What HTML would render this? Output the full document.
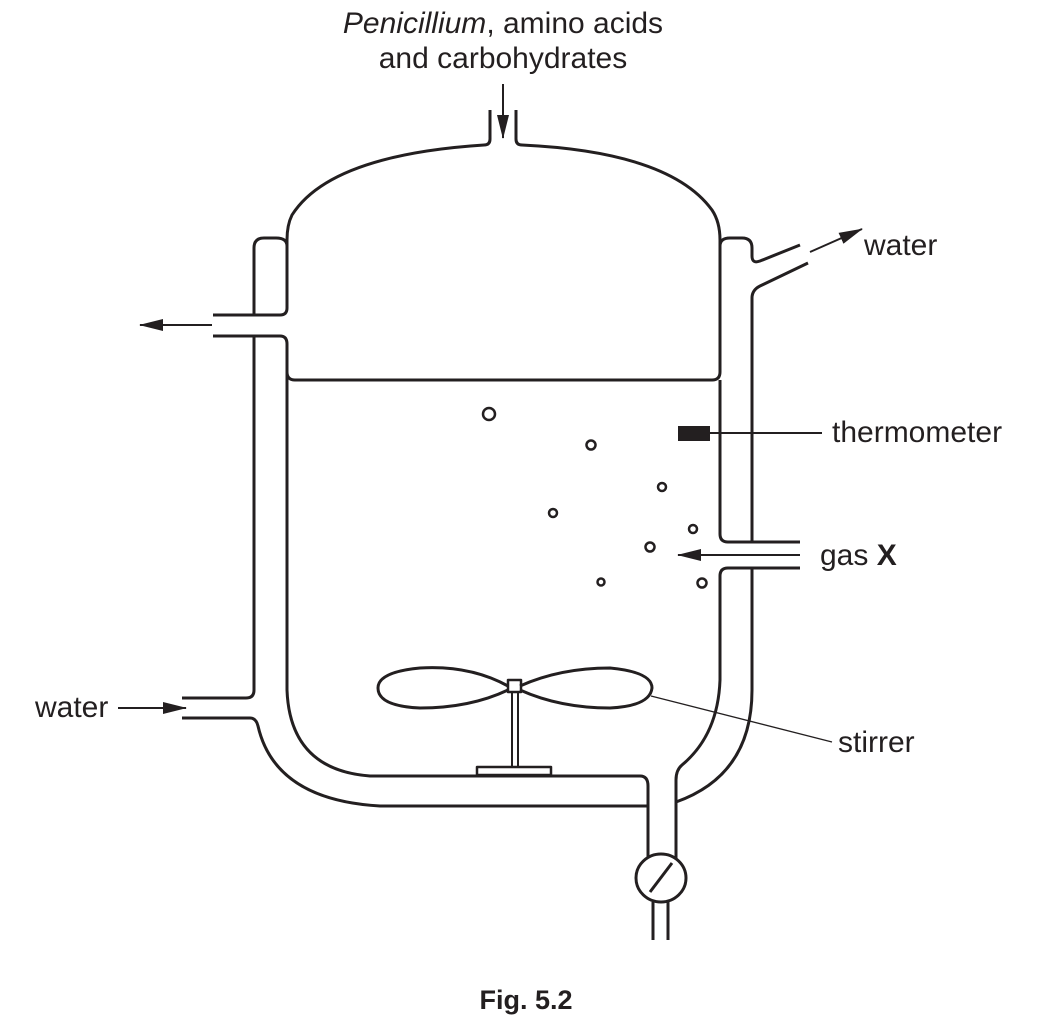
<!DOCTYPE html>
<html><head><meta charset="utf-8"><style>
html,body{margin:0;padding:0;background:#fff}
svg{display:block}
text{font-family:"Liberation Sans",Arial,sans-serif;fill:#231f20}
</style></head><body>
<svg width="1050" height="1023" viewBox="0 0 1050 1023" xmlns="http://www.w3.org/2000/svg">
<defs>
<marker id="ah2" markerWidth="24" markerHeight="12" refX="23" refY="6" orient="auto" markerUnits="userSpaceOnUse" viewBox="0 0 24 12">
<path d="M0,0 L24,6 L0,12 z" fill="#231f20"/></marker>
</defs>
<g fill="none" stroke="#231f20" stroke-width="3" stroke-linejoin="round">
<path d="M490,110 L490,139 Q490,145 484,145 Q330,155 292,215 Q287,225 287,240 L287,308 Q287,315 280,315 L213,315"/>
<path d="M516,110 L516,139 Q516,145 522,145 Q670,152 712,210 Q720,222 720,240 L720,372 Q720,380 712,380 L295,380 Q287,380 287,372"/>
<path d="M254,315 L254,248 Q254,238 264,238 L276,238 Q287,238 287,246"/>
<path d="M213,336 L280,336 Q287,336 287,344 L287,690 Q290,770 370,776 L640,776 Q648,776 648,786 L648,858"/>
<path d="M254,336 L254,690 Q254,698 246,698 L182,698"/>
<path d="M182,718 L250,718 Q256,718 258,726 Q275,800 380,806 L648,806"/>
<path d="M720,246 Q720,238 730,238 L742,238 Q752,238 752,248 L752,256 Q752,264 760,261 L800,245"/>
<path d="M808,263 L760,286 Q752,290 752,298 L752,542"/>
<path d="M720,380 L720,534 Q720,542 728,542 L800,542"/>
<path d="M800,568 L728,568 Q720,568 720,576 L720,680 Q718,735 682,765 Q676,770 676,780 L676,858"/>
<path d="M752,568 L752,690 Q752,775 676,802"/>
<ellipse cx="661" cy="878" rx="25" ry="24"/>
<line x1="650" y1="892" x2="672" y2="863"/>
<line x1="653" y1="902" x2="653" y2="940"/>
<line x1="668" y1="902" x2="668" y2="940"/>
<path d="M508,686 Q470,665 420,668 Q378,672 378,688 Q378,706 420,708 Q470,708 508,690"/>
<path d="M520,686 Q560,668 610,668 Q652,672 652,688 Q650,706 610,708 Q560,708 520,690"/>
<rect x="508" y="680" width="13" height="12" stroke-width="2.5"/>
<line x1="512" y1="692" x2="512" y2="767" stroke-width="2"/>
<line x1="518" y1="692" x2="518" y2="767" stroke-width="2"/>
<rect x="477" y="767" width="74" height="8" stroke-width="2.5"/>
<g stroke-width="2.5">
<circle cx="489" cy="414" r="6"/><circle cx="591" cy="445" r="4.5"/><circle cx="662" cy="487" r="4"/>
<circle cx="553" cy="513" r="4"/><circle cx="693" cy="529" r="4"/><circle cx="650" cy="547" r="4.5"/>
<circle cx="601" cy="582" r="3.5"/><circle cx="702" cy="583" r="4.5"/>
</g>
</g>
<g stroke="#231f20" fill="none">
<line x1="503" y1="84" x2="503" y2="138" stroke-width="2" marker-end="url(#ah2)"/>
<line x1="212" y1="325" x2="140" y2="325" stroke-width="2" marker-end="url(#ah2)"/>
<line x1="118" y1="708" x2="186" y2="708" stroke-width="2" marker-end="url(#ah2)"/>
<line x1="810" y1="252" x2="862" y2="229" stroke-width="2" marker-end="url(#ah2)"/>
<line x1="800" y1="555" x2="678" y2="555" stroke-width="2" marker-end="url(#ah2)"/>
<line x1="710" y1="433" x2="822" y2="433" stroke-width="2"/>
<line x1="651" y1="696" x2="832" y2="742" stroke-width="1.3"/>
</g>
<rect x="678" y="426" width="32" height="15" fill="#231f20"/>
<text x="503" y="33" font-size="30" text-anchor="middle"><tspan font-style="italic">Penicillium</tspan>, amino acids</text>
<text x="503" y="68" font-size="30" text-anchor="middle">and carbohydrates</text>
<text x="864" y="255" font-size="30">water</text>
<text x="832" y="442" font-size="30">thermometer</text>
<text x="820" y="565" font-size="30">gas <tspan font-weight="bold">X</tspan></text>
<text x="35" y="717" font-size="30">water</text>
<text x="838" y="752" font-size="30">stirrer</text>
<text x="526" y="1009" font-size="27" font-weight="bold" text-anchor="middle">Fig. 5.2</text>
</svg>
</body></html>
